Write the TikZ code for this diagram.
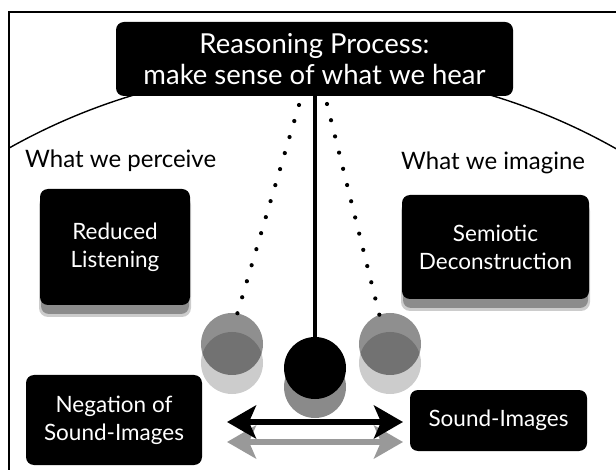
\documentclass[tikz,border=0pt]{standalone}
\usepackage{fontspec}
\setmainfont{Lato}
\usetikzlibrary{arrows.meta,calc}
\begin{document}
\begin{tikzpicture}[x=1pt,y=-1pt,
  blackbox/.style={fill=black, rounded corners=8pt, text=white, align=center, inner sep=0pt},
  boxfont/.style={font=\fontsize{22.5}{28}\selectfont},
  shadowbox/.style={fill=black!45, rounded corners=8pt},
  ghostlow/.style={circle, fill=black!20, minimum size=62pt, inner sep=0pt},
  ghostup/.style={circle, fill=black, fill opacity=0.44, minimum size=62pt, inner sep=0pt},
  dotmark/.style={fill=black},
  bigarrow/.style={line width=6.5pt, {Stealth[length=29pt,width=33pt,inset=7pt]}-{Stealth[length=29pt,width=33pt,inset=7pt]}},
  framel/.style={line width=1.3pt},
  label/.style={font=\fontsize{24}{28}\selectfont, anchor=base west, inner sep=0pt}]
\useasboundingbox (0,0) rectangle (616,470);
% frame
\draw[framel] (9,470) -- (9,12) -- (616,12);
% arc
\begin{scope}
  \clip (9,12) rectangle (616,470);
  \draw[line width=1.4pt] (312,688) circle (619);
\end{scope}
% title
\node[blackbox, minimum width=397pt, minimum height=74pt, font=\fontsize{27.5}{31}\selectfont] (title) at (314.5,59) {Reasoning Process:\\make sense of what we hear};
% labels
\node[label] (perc) at (25,168) {What we perceive};
\node[label] (imag) at (401,170) {What we imagine};
% shadows
\fill[black!20, rounded corners=9pt] (39,196) rectangle (191,317);
\fill[shadowbox] (41,196) rectangle (189,314);
\fill[black!20, rounded corners=9pt] (401,202) rectangle (590,311);
\fill[shadowbox] (403,202) rectangle (588,308);
% boxes
\node[blackbox, boxfont, minimum width=150pt, minimum height=116pt] (red) at (115,247) {Reduced\\Listening};
\node[blackbox, boxfont, minimum width=187pt, minimum height=104pt] (sem) at (495.5,247) {Semiotic\\Deconstruction};
\node[blackbox, boxfont, minimum width=176pt, minimum height=90pt] (neg) at (114,420) {Negation of\\Sound-Images};
\node[blackbox, boxfont, minimum width=177pt, minimum height=61pt] (snd) at (498.5,420.5) {Sound-Images};
% ghost circles
\node[ghostlow] (gls) at (232,363) {};
\node[ghostup] (gl) at (232,344) {};
\node[ghostlow] (grs) at (390,363) {};
\node[ghostup] (gr) at (390,344) {};
% bob
\node[circle, fill=black!46, minimum size=62pt, inner sep=0pt] (bobs) at (315,387) {};
\node[circle, fill=black, minimum size=62pt, inner sep=0pt] (bob) at (315,368) {};
\draw[line width=3.5pt] (bob |- title.south) -- (bob.north);
% dotted swing paths
\coordinate (dl) at (299,105);
\coordinate (dr) at (327,104);
\foreach \i in {0,...,13} {
  \fill[dotmark] ($(dl)!\i/13!(gl.80)$) circle (2.1pt);
  \fill[dotmark] ($(dr)!\i/13!(gr.110)$) circle (2.1pt);
}
% arrows
\coordinate (al) at (227,422);
\coordinate (ar) at (403,422);
\draw[bigarrow, draw=black!40, fill=black!40] ($(al)+(0,20)$) -- ($(ar)+(0,20)$);
\draw[bigarrow] (al) -- (ar);
\end{tikzpicture}
\end{document}
